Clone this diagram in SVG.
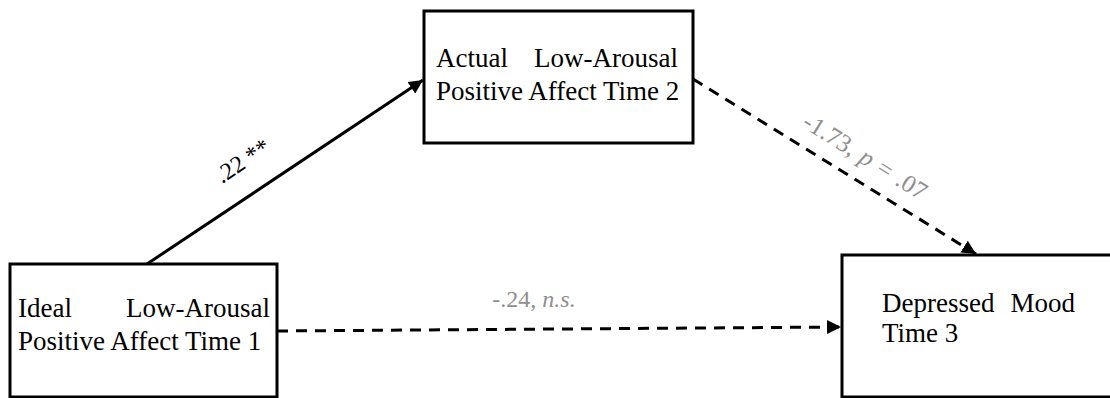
<svg xmlns="http://www.w3.org/2000/svg" width="1110" height="398" viewBox="0 0 1110 398">
<style>
.box{fill:#fff;stroke:#000;stroke-width:3}
.t{font-family:"Liberation Serif","Times New Roman",serif;font-size:27px;fill:#000}
.lab{font-family:"Liberation Serif","Times New Roman",serif;font-size:24px}
.gray{fill:#8f8f8f}
.solid{stroke:#000;stroke-width:3;fill:none}
.dash{stroke:#000;stroke-width:3;fill:none;stroke-dasharray:11 8}
</style>
<defs>
<marker id="ah" markerUnits="userSpaceOnUse" markerWidth="16" markerHeight="14" refX="14" refY="7" orient="auto">
<path d="M0,0 L14,7 L0,14 Z" fill="#000"/>
</marker>
</defs>
<rect width="1110" height="398" fill="#fff"/>
<g id="connectors">
<line class="solid" x1="147" y1="264" x2="423" y2="80" marker-end="url(#ah)"/>
<line class="dash" x1="693" y1="79" x2="976" y2="254" marker-end="url(#ah)"/>
<line class="dash" x1="277" y1="331" x2="841" y2="327" marker-end="url(#ah)"/>
<text class="lab" transform="translate(222,184) rotate(-33.5)">.22 **</text>
<text class="lab gray" transform="translate(801,126) rotate(32)" style="font-size:25px;word-spacing:2px">-1.73, <tspan font-style="italic">p</tspan> = .07</text>
<text class="lab gray" x="534" y="307" text-anchor="middle">-.24, <tspan font-style="italic">n.s.</tspan></text>
</g>
<g id="node-ideal">
<rect class="box" x="10" y="264" width="267" height="133"/>
<text class="t" x="18" y="317">Ideal</text>
<text class="t" x="270" y="317" text-anchor="end">Low-Arousal</text>
<text class="t" x="18" y="350">Positive Affect Time 1</text>
</g>
<g id="node-actual">
<rect class="box" x="424" y="11" width="269" height="132"/>
<text class="t" x="436" y="67">Actual</text>
<text class="t" x="678" y="67" text-anchor="end">Low-Arousal</text>
<text class="t" x="436" y="100">Positive Affect Time 2</text>
</g>
<g id="node-depressed">
<rect class="box" x="842" y="255" width="275" height="142"/>
<text class="t" x="882" y="312">Depressed</text>
<text class="t" x="1075" y="312" text-anchor="end">Mood</text>
<text class="t" x="882" y="342">Time 3</text>
</g>
</svg>
